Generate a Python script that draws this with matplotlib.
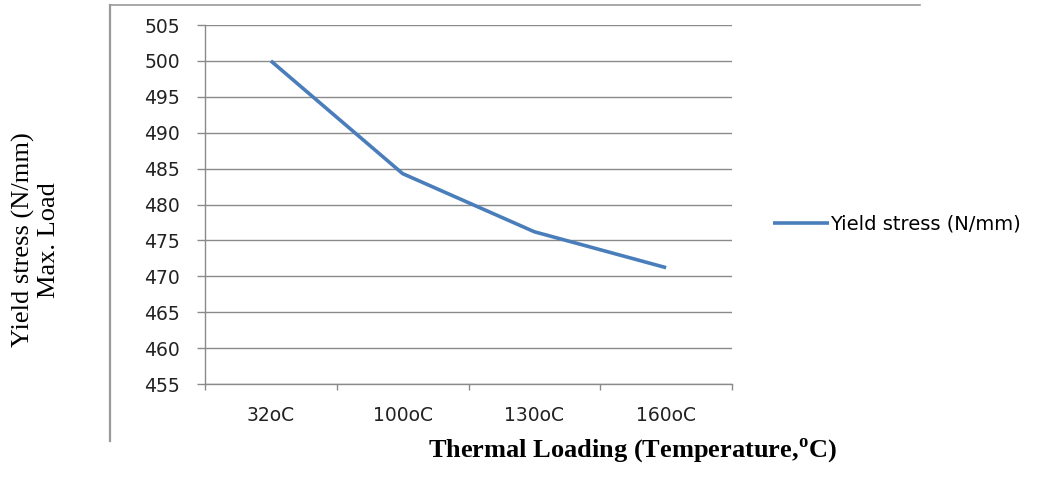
import matplotlib
matplotlib.use("Agg")
import matplotlib.pyplot as plt
from matplotlib.lines import Line2D

# datos
temperaturas = ["32oC", "100oC", "130oC", "160oC"]
yield_stress = [500.0, 484.3, 476.2, 471.2]
y_ticks = [455, 460, 465, 470, 475, 480, 485, 490, 495, 500, 505]

plt.rcParams["mathtext.fontset"] = "custom"
plt.rcParams["mathtext.rm"] = "Liberation Serif"
plt.rcParams["mathtext.bf"] = "Liberation Serif:bold"

W, H = 1061, 484
fig = plt.figure(figsize=(W / 100, H / 100), dpi=100)
ax = fig.add_axes([205 / W, 1 - 384 / H, (732 - 205) / W, (384 - 25) / H])

gris = "#8a8a8a"
x = list(range(len(temperaturas)))
ax.plot(x, yield_stress, color="#4A7EBB", linewidth=2.6, solid_capstyle="butt",
        label="Yield stress (N/mm)")

# eje y
ax.set_ylim(455, 505)
ax.set_yticks(y_ticks)
ax.yaxis.grid(True, color=gris, linewidth=1.0)
ax.set_axisbelow(True)
ax.tick_params(axis="y", direction="out", length=5.8, width=1.0, color=gris,
               pad=12, labelsize=13.5, labelcolor="#222222")

# eje x: marcas en los limites de categoria, etiquetas al centro
ax.set_xlim(-0.5, len(temperaturas) - 0.5)
ax.set_xticks([i - 0.5 for i in range(len(temperaturas) + 1)])
ax.set_xticklabels([])
ax.set_xticks(x, minor=True)
ax.set_xticklabels(temperaturas, minor=True)
ax.tick_params(axis="x", which="major", direction="out", length=4, width=1.0, color=gris)
ax.tick_params(axis="x", which="minor", length=0, pad=16, labelsize=13.5, labelcolor="#222222")

for s in ["top", "right"]:
    ax.spines[s].set_visible(False)
for s in ["left", "bottom"]:
    ax.spines[s].set_color(gris)
    ax.spines[s].set_linewidth(1.0)

# leyenda a la derecha
fig.legend(loc="center left", bbox_to_anchor=(773 / W, 1 - 224 / H), frameon=False,
           borderpad=0, borderaxespad=0, handlelength=2.9, handletextpad=0.05,
           prop={"size": 14})

# titulos de ejes (texto serif)
fig.text(36 / W, 1 - 240 / H, "Yield stress (N/mm)\nMax. Load", rotation=90,
         ha="center", va="center", multialignment="center", linespacing=1.15,
         family="Liberation Serif", fontsize=19)
fig.text(632 / W, 1 - 451 / H, r"Thermal Loading (Temperature,$^{\mathbf{o}}$C)",
         ha="center", va="center", family="Liberation Serif", fontweight="bold",
         fontsize=19)

# marco exterior recortado
fig.add_artist(Line2D([110 / W, 110 / W], [1 - 5 / H, 1 - 441 / H], color="#9a9a9a",
                      linewidth=1.6, transform=fig.transFigure))
fig.add_artist(Line2D([110 / W, 920 / W], [1 - 5 / H, 1 - 5 / H], color="#9a9a9a",
                      linewidth=1.2, transform=fig.transFigure))

fig.savefig("out.png", dpi=100)
